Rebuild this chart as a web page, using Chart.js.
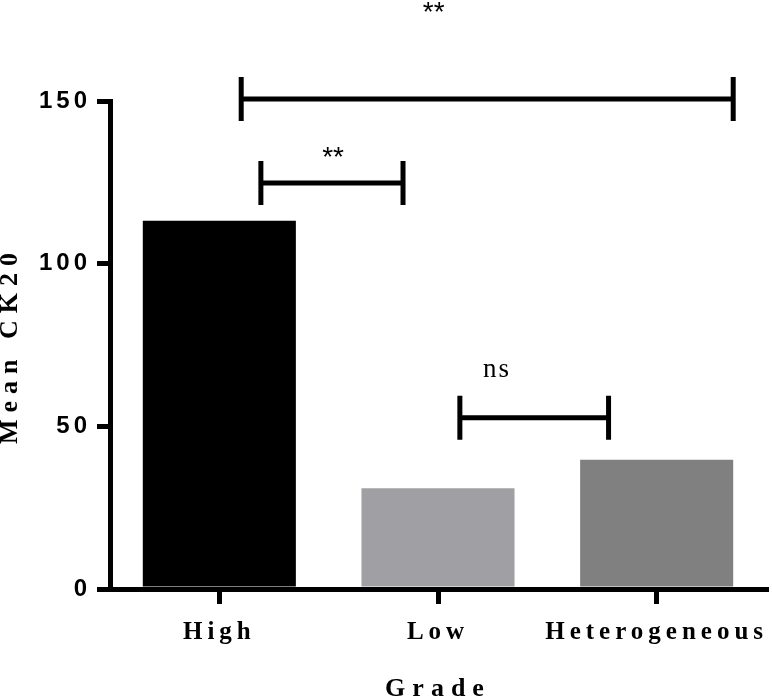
<!DOCTYPE html>
<html>
<head>
<meta charset="utf-8">
<script src="https://cdn.jsdelivr.net/npm/chart.js@4/dist/chart.umd.min.js"></script>
<style>
  html, body { margin: 0; padding: 0; background: #fff; }
  #wrap { width: 772px; height: 697px; }
</style>
</head>
<body>
<div id="wrap"><canvas id="barChart"></canvas></div>
<script>
// data
const grades = ["High", "Low", "Heterogeneous"];
const meanCK20 = [113.2, 31.0, 39.7];
const barColors = ["#000000", "#a0a0a4", "#808080"];
const yTicks = [0, 50, 100, 150];

// significance brackets: from / to in category units, line level and label level in data units
const sigLabels = ["**", "**", "ns"];
const sigFrom = [0.10, 0.19, 1.10];
const sigTo = [2.35, 0.84, 1.78];
const sigLevel = [150.6, 124.8, 52.6];
const sigTextX = [0.98, 0.52, 1.27];
const sigTextY = [174.5, 130, 65.2];

// scales that honour a letterSpacing option for ticks and title
function spaced(Base, id) {
  return class extends Base {
    static id = id;
    drawLabels(area) {
      this.ctx.letterSpacing = this.options.ticks.letterSpacing || "0px";
      super.drawLabels(area);
      this.ctx.letterSpacing = "0px";
    }
    drawTitle(area) {
      this.ctx.letterSpacing = this.options.title.letterSpacing || "0px";
      super.drawTitle(area);
      this.ctx.letterSpacing = "0px";
    }
  };
}
Chart.register(spaced(Chart.CategoryScale, "spacedCategory"), spaced(Chart.LinearScale, "spacedLinear"));

const brackets = {
  id: "brackets",
  afterDraw(chart) {
    const { ctx, scales: { x, y } } = chart;
    ctx.save();
    ctx.strokeStyle = "#000";
    ctx.fillStyle = "#000";
    ctx.lineWidth = 5;
    sigLabels.forEach((lab, i) => {
      const x1 = x.getPixelForValue(sigFrom[i]);
      const x2 = x.getPixelForValue(sigTo[i]);
      const yy = y.getPixelForValue(sigLevel[i]);
      ctx.beginPath();
      ctx.moveTo(x1, yy); ctx.lineTo(x2, yy);
      ctx.moveTo(x1, yy - 22); ctx.lineTo(x1, yy + 22);
      ctx.moveTo(x2, yy - 22); ctx.lineTo(x2, yy + 22);
      ctx.stroke();
      ctx.font = lab === "ns" ? "27px 'Liberation Serif'" : "28px 'Liberation Sans'";
      ctx.letterSpacing = lab === "ns" ? "2px" : "0px";
      ctx.textAlign = "center";
      ctx.textBaseline = "alphabetic";
      ctx.fillText(lab, x.getPixelForValue(sigTextX[i]), y.getPixelForValue(sigTextY[i]));
    });
    ctx.restore();
  }
};

new Chart(document.getElementById("barChart").getContext("2d"), {
  type: "bar",
  data: {
    labels: grades,
    datasets: [{
      data: meanCK20,
      backgroundColor: barColors,
      borderWidth: 0,
      barPercentage: 0.7,
      categoryPercentage: 1
    }]
  },
  options: {
    responsive: true,
    maintainAspectRatio: false,
    animation: false,
    layout: { padding: { top: 101, right: 6, left: 0, bottom: 0 } },
    plugins: { legend: { display: false }, tooltip: { enabled: false } },
    scales: {
      x: {
        type: "spacedCategory",
        afterFit: (s) => { s.height = 108; },
        grid: { offset: false, drawOnChartArea: false, tickLength: 15, lineWidth: 5, color: "#000" },
        border: { color: "#000", width: 5, z: 1 },
        ticks: {
          color: "#000", padding: 14, letterSpacing: "5px",
          font: { family: "'Liberation Serif'", size: 25, weight: "bold" }
        },
        title: {
          display: true, text: "Grade", color: "#000", letterSpacing: "7px",
          padding: { top: 0, bottom: -5 },
          font: { family: "'Liberation Serif'", size: 26, weight: "bold", lineHeight: 1 }
        }
      },
      y: {
        type: "spacedLinear",
        min: 0, max: 150,
        afterFit: (s) => { s.width = 110; },
        afterBuildTicks: (s) => { s.ticks = yTicks.map(v => ({ value: v })); },
        grid: { drawOnChartArea: false, tickLength: 13, lineWidth: 5, color: "#000" },
        border: { color: "#000", width: 5, z: 1 },
        ticks: {
          color: "#000", padding: 6, letterSpacing: "4px",
          font: { family: "'Liberation Sans'", size: 24, weight: "bold" }
        },
        title: {
          display: true, text: "Mean CK20", color: "#000", letterSpacing: "7px",
          padding: { top: -3, bottom: 0 },
          font: { family: "'Liberation Serif'", size: 26, weight: "bold", lineHeight: 1 }
        }
      }
    }
  },
  plugins: [brackets]
});
</script>
</body>
</html>
